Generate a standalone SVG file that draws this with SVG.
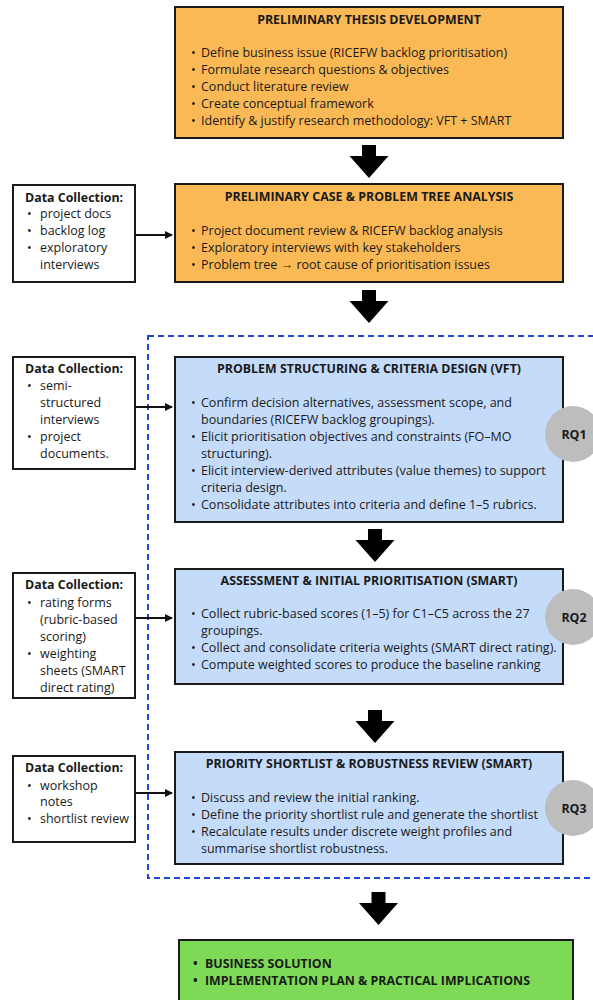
<svg xmlns="http://www.w3.org/2000/svg" xmlns:xlink="http://www.w3.org/1999/xlink" width="593" height="1000" viewBox="0 0 593 1000">
<style>
text{font-family:"Open Sans","Liberation Sans",sans-serif;font-size:12.5px;fill:#1a1a1a}
.t{font-weight:bold;text-anchor:middle;font-size:12.4px}
.b{font-weight:bold;font-size:12.4px}
.box{stroke:#1a1a1a;stroke-width:2}
.org{fill:#FAB954}
.blu{fill:#C4DBFA}
.grn{fill:#7ED957}
.dc{fill:#fff;stroke:#1a1a1a;stroke-width:2}
.rq{fill:#BDBDBD}
.rqt{font-weight:bold;text-anchor:middle;font-size:12.4px}
.con{stroke:#111;stroke-width:2;fill:none}
</style>
<defs>
<marker id="ah" markerWidth="8" markerHeight="8" refX="7" refY="4" orient="auto" markerUnits="userSpaceOnUse">
<path d="M0,0 L8,4 L0,8 Z" fill="#111"/>
</marker>
<path id="blk" d="M-7,0 H7 V11 H19.5 L0,33 L-19.5,11 H-7 Z" fill="#000"/>
</defs>

<rect x="148" y="336" width="460" height="542" fill="none" stroke="#2147D9" stroke-width="2" stroke-dasharray="6,4"/>

<g id="n1">
<rect class="box org" x="175" y="7" width="388" height="131"/>
<text class="t" x="369" y="23.5">PRELIMINARY THESIS DEVELOPMENT</text>
<text x="191" y="57">•</text><text x="201" y="57">Define business issue (RICEFW backlog prioritisation)</text>
<text x="191" y="74">•</text><text x="201" y="74">Formulate research questions &amp; objectives</text>
<text x="191" y="91">•</text><text x="201" y="91">Conduct literature review</text>
<text x="191" y="108">•</text><text x="201" y="108">Create conceptual framework</text>
<text x="191" y="125">•</text><text x="201" y="125">Identify &amp; justify research methodology: VFT + SMART</text>
</g>

<g id="n2">
<rect class="box org" x="175" y="184" width="388" height="98"/>
<text class="t" x="369" y="201">PRELIMINARY CASE &amp; PROBLEM TREE ANALYSIS</text>
<text x="191" y="235">•</text><text x="201" y="235">Project document review &amp; RICEFW backlog analysis</text>
<text x="191" y="252">•</text><text x="201" y="252">Exploratory interviews with key stakeholders</text>
<text x="191" y="269">•</text><text x="201" y="269">Problem tree → root cause of prioritisation issues</text>
</g>

<g id="d1">
<rect class="dc" x="13" y="185" width="122" height="97"/>
<text class="b" x="25" y="202">Data Collection:</text>
<text x="27" y="218">•</text><text x="40" y="218">project docs</text>
<text x="27" y="235">•</text><text x="40" y="235">backlog log</text>
<text x="27" y="252">•</text><text x="40" y="252">exploratory</text>
<text x="40" y="269">interviews</text>
</g>

<g id="n3">
<rect class="box blu" x="175" y="357" width="388" height="165"/>
<text class="t" x="369" y="373">PROBLEM STRUCTURING &amp; CRITERIA DESIGN (VFT)</text>
<text x="191" y="407">•</text><text x="201" y="407">Confirm decision alternatives, assessment scope, and</text>
<text x="201" y="424">boundaries (RICEFW backlog groupings).</text>
<text x="191" y="441">•</text><text x="201" y="441">Elicit prioritisation objectives and constraints (FO–MO</text>
<text x="201" y="458">structuring).</text>
<text x="191" y="475">•</text><text x="201" y="475">Elicit interview-derived attributes (value themes) to support</text>
<text x="201" y="492">criteria design.</text>
<text x="191" y="509">•</text><text x="201" y="509">Consolidate attributes into criteria and define 1–5 rubrics.</text>
</g>

<g id="d2">
<rect class="dc" x="13" y="357" width="122" height="112"/>
<text class="b" x="25" y="373">Data Collection:</text>
<text x="27" y="390">•</text><text x="40" y="390">semi-</text>
<text x="40" y="407">structured</text>
<text x="40" y="424">interviews</text>
<text x="27" y="441">•</text><text x="40" y="441">project</text>
<text x="40" y="458">documents.</text>
</g>

<g id="rq1">
<circle class="rq" cx="573" cy="434" r="28"/>
<text class="rqt" x="574" y="438.5">RQ1</text>
</g>

<g id="n4">
<rect class="box blu" x="175" y="569" width="388" height="115"/>
<text class="t" x="369" y="585">ASSESSMENT &amp; INITIAL PRIORITISATION (SMART)</text>
<text x="191" y="618">•</text><text x="201" y="618">Collect rubric-based scores (1–5) for C1–C5 across the 27</text>
<text x="201" y="635">groupings.</text>
<text x="191" y="652">•</text><text x="201" y="652">Collect and consolidate criteria weights (SMART direct rating).</text>
<text x="191" y="669">•</text><text x="201" y="669">Compute weighted scores to produce the baseline ranking</text>
</g>

<g id="d3">
<rect class="dc" x="13" y="573" width="122" height="125"/>
<text class="b" x="25" y="589">Data Collection:</text>
<text x="27" y="607">•</text><text x="40" y="607">rating forms</text>
<text x="40" y="624">(rubric-based</text>
<text x="40" y="641">scoring)</text>
<text x="27" y="658">•</text><text x="40" y="658">weighting</text>
<text x="40" y="675">sheets (SMART</text>
<text x="40" y="692">direct rating)</text>
</g>

<g id="rq2">
<circle class="rq" cx="573" cy="617" r="28"/>
<text class="rqt" x="574" y="621.5">RQ2</text>
</g>

<g id="n5">
<rect class="box blu" x="175" y="752" width="388" height="112"/>
<text class="t" x="369" y="768">PRIORITY SHORTLIST &amp; ROBUSTNESS REVIEW (SMART)</text>
<text x="191" y="802">•</text><text x="201" y="802">Discuss and review the initial ranking.</text>
<text x="191" y="819">•</text><text x="201" y="819">Define the priority shortlist rule and generate the shortlist</text>
<text x="191" y="836">•</text><text x="201" y="836">Recalculate results under discrete weight profiles and</text>
<text x="201" y="853">summarise shortlist robustness.</text>
</g>

<g id="d4">
<rect class="dc" x="13" y="756" width="122" height="86"/>
<text class="b" x="25" y="772">Data Collection:</text>
<text x="27" y="790">•</text><text x="40" y="790">workshop</text>
<text x="40" y="806">notes</text>
<text x="27" y="823">•</text><text x="40" y="823">shortlist review</text>
</g>

<g id="rq3">
<circle class="rq" cx="573" cy="808" r="28"/>
<text class="rqt" x="574" y="812.5">RQ3</text>
</g>

<g id="n6">
<rect class="box grn" x="179" y="940" width="394" height="80"/>
<text class="b" x="193" y="968">•</text><text class="b" x="205" y="968">BUSINESS SOLUTION</text>
<text class="b" x="193" y="985">•</text><text class="b" x="205" y="985">IMPLEMENTATION PLAN &amp; PRACTICAL IMPLICATIONS</text>
</g>

<g id="connectors">
<use xlink:href="#blk" x="369" y="145"/>
<use xlink:href="#blk" x="369" y="290"/>
<use xlink:href="#blk" x="375" y="529"/>
<use xlink:href="#blk" x="375" y="710"/>
<use xlink:href="#blk" x="378.5" y="892"/>
<line class="con" x1="135" y1="235" x2="172" y2="235" marker-end="url(#ah)"/>
<line class="con" x1="135" y1="407" x2="172" y2="407" marker-end="url(#ah)"/>
<line class="con" x1="135" y1="618" x2="172" y2="618" marker-end="url(#ah)"/>
<line class="con" x1="135" y1="793" x2="172" y2="793" marker-end="url(#ah)"/>
</g>
</svg>
